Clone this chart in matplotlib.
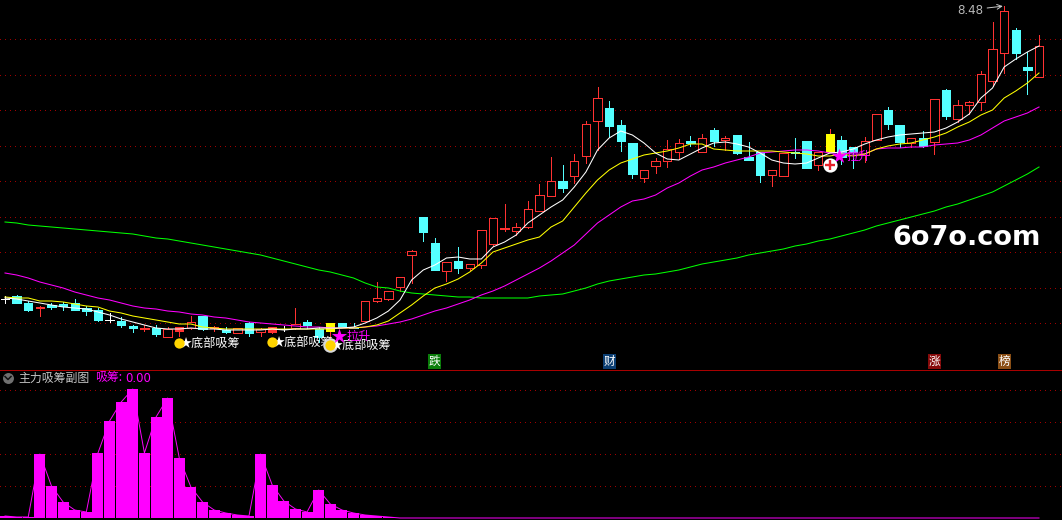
import matplotlib
matplotlib.use('Agg')
import matplotlib.pyplot as plt
import numpy as np

plt.rcParams['font.family'] = ['Noto Sans CJK SC', 'DejaVu Sans']

# K线数据
opens = [5.55,5.58,5.51,5.46,5.49,5.50,5.51,5.46,5.44,5.34,5.33,5.28,5.25,5.26,5.17,5.23,5.26,5.38,5.26,5.24,
         5.21,5.31,5.22,5.22,5.25,5.26,5.32,5.25,5.23,5.31,5.27,5.33,5.53,5.55,5.67,5.99,6.37,6.11,5.83,5.93,
         5.86,5.89,6.10,6.25,6.23,6.27,6.43,6.58,6.73,6.78,6.98,7.33,7.46,7.29,7.11,6.76,6.88,6.93,7.02,7.13,
         7.02,7.24,7.14,7.19,6.97,7.02,6.79,6.78,7.02,7.13,6.89,7.02,7.14,7.07,6.99,7.14,7.44,7.29,7.11,7.16,
         7.12,7.64,7.35,7.49,7.52,7.73,8.01,8.24,7.87,7.77]
closes = [5.55,5.51,5.44,5.47,5.47,5.48,5.44,5.43,5.34,5.34,5.29,5.26,5.26,5.20,5.25,5.27,5.32,5.25,5.27,5.22,
          5.26,5.21,5.25,5.27,5.25,5.30,5.29,5.17,5.31,5.27,5.26,5.53,5.56,5.63,5.77,6.03,6.22,5.84,5.92,5.86,
          5.90,6.24,6.36,6.26,6.27,6.45,6.59,6.73,6.66,6.93,7.30,7.56,7.28,7.13,6.80,6.84,6.93,7.05,7.11,7.11,
          7.16,7.13,7.16,7.01,6.94,6.79,6.84,7.01,7.01,6.86,7.02,7.20,6.97,7.02,7.13,7.40,7.30,7.12,7.16,7.08,
          7.55,7.38,7.49,7.52,7.80,8.05,8.43,8.01,7.84,8.08]
highs = [5.58,5.59,5.53,5.48,5.51,5.52,5.55,5.48,5.46,5.41,5.37,5.29,5.29,5.29,5.27,5.27,5.38,5.38,5.28,5.27,
         5.26,5.32,5.26,5.27,5.28,5.46,5.34,5.27,5.31,5.31,5.31,5.53,5.72,5.63,5.77,6.04,6.37,6.16,5.92,6.07,
         5.90,6.24,6.36,6.50,6.31,6.53,6.70,6.97,6.89,7.00,7.33,7.67,7.53,7.34,7.11,6.84,6.96,7.14,7.15,7.18,
         7.20,7.26,7.18,7.19,7.12,7.02,6.84,7.01,7.16,7.13,7.02,7.25,7.18,7.07,7.17,7.40,7.47,7.29,7.16,7.23,
         7.55,7.65,7.54,7.53,7.83,8.32,8.48,8.26,8.02,8.19]
lows = [5.51,5.51,5.43,5.38,5.45,5.44,5.44,5.39,5.33,5.32,5.27,5.22,5.23,5.18,5.17,5.18,5.25,5.24,5.23,5.21,
        5.21,5.18,5.18,5.21,5.23,5.25,5.26,5.12,5.16,5.27,5.26,5.33,5.52,5.54,5.63,5.71,6.13,5.84,5.73,5.81,
        5.84,5.86,6.08,6.23,6.19,6.26,6.43,6.58,6.62,6.71,6.91,7.04,7.17,7.03,6.76,6.72,6.81,6.87,6.95,7.08,
        7.02,7.08,7.04,7.00,6.94,6.72,6.68,6.78,6.96,6.86,6.84,7.02,6.90,6.86,6.92,7.14,7.25,7.07,7.07,7.07,
        7.00,7.35,7.32,7.40,7.44,7.68,7.81,7.95,7.60,7.77]

# 均线
ma5 = [5.56,5.55,5.53,5.51,5.49,5.47,5.46,5.45,5.42,5.39,5.35,5.32,5.29,5.26,5.25,5.25,5.26,5.25,5.25,5.24,
       5.24,5.24,5.24,5.25,5.24,5.25,5.25,5.26,5.26,5.26,5.27,5.31,5.36,5.43,5.54,5.74,5.84,5.89,5.96,5.97,
       5.95,5.95,6.07,6.12,6.19,6.31,6.39,6.47,6.54,6.67,6.82,7.04,7.16,7.23,7.19,7.11,7.01,6.95,6.94,7.00,
       7.06,7.11,7.12,7.10,7.07,7.01,6.94,6.91,6.90,6.91,6.96,7.01,7.02,7.05,7.10,7.14,7.17,7.19,7.20,7.21,
       7.22,7.26,7.32,7.40,7.56,7.66,7.87,7.95,8.02,8.08]
ma10 = [5.57,5.56,5.56,5.53,5.53,5.52,5.50,5.48,5.47,5.43,5.41,5.38,5.36,5.34,5.32,5.30,5.30,5.27,5.26,5.25,
        5.25,5.25,5.25,5.25,5.25,5.25,5.25,5.25,5.25,5.26,5.26,5.27,5.29,5.33,5.41,5.49,5.58,5.66,5.70,5.75,
        5.82,5.91,6.02,6.06,6.10,6.14,6.17,6.27,6.33,6.47,6.61,6.74,6.84,6.91,6.95,6.99,7.01,7.03,7.06,7.10,
        7.10,7.05,7.04,7.03,7.03,7.03,7.03,7.02,7.01,7.00,6.98,6.98,7.00,6.98,7.00,7.05,7.08,7.10,7.11,7.14,
        7.17,7.21,7.27,7.32,7.39,7.44,7.56,7.63,7.71,7.81]
ma30 = [5.81,5.79,5.76,5.72,5.69,5.66,5.62,5.59,5.56,5.54,5.51,5.48,5.46,5.45,5.43,5.42,5.40,5.39,5.37,5.36,
        5.34,5.32,5.31,5.30,5.29,5.28,5.27,5.27,5.26,5.26,5.26,5.27,5.28,5.30,5.32,5.35,5.39,5.43,5.46,5.50,
        5.54,5.59,5.63,5.68,5.74,5.80,5.86,5.93,6.01,6.09,6.20,6.31,6.39,6.47,6.53,6.55,6.59,6.66,6.71,6.78,
        6.84,6.87,6.91,6.94,6.97,7.01,7.02,7.03,7.04,7.04,7.03,7.01,7.01,7.00,7.00,7.05,7.06,7.06,7.07,7.07,
        7.09,7.10,7.11,7.14,7.19,7.26,7.33,7.37,7.41,7.47]
ma60 = [6.32,6.31,6.29,6.28,6.27,6.26,6.25,6.24,6.23,6.22,6.21,6.20,6.18,6.16,6.15,6.13,6.11,6.09,6.07,6.05,
        6.03,6.01,5.99,5.96,5.93,5.90,5.87,5.84,5.82,5.79,5.76,5.71,5.67,5.66,5.63,5.61,5.60,5.59,5.58,5.57,
        5.57,5.56,5.56,5.56,5.56,5.56,5.58,5.59,5.60,5.63,5.66,5.70,5.73,5.75,5.77,5.79,5.80,5.82,5.84,5.87,
        5.90,5.92,5.94,5.96,5.99,6.01,6.03,6.05,6.08,6.10,6.13,6.15,6.18,6.21,6.24,6.28,6.31,6.34,6.37,6.40,
        6.43,6.47,6.50,6.54,6.58,6.62,6.68,6.74,6.80,6.87]

# 副图 吸筹
xichou = [2,1,1,64,32,16,8,6,65,97,116,129,65,101,120,60,31,16,8,5,3,2,64,33,17,9,6,28,14,8,5,3,2,1] + [0]*56

# 特殊K线和标记
filled_red = [15, 23]
yellow_bars = [28, 71]
bottom_signals = [(15, 5.11), (23, 5.12), (28, 5.09)]
lift_signals = [(29, 5.17), (72, 6.97)]
news_marks = [(37, '跌', '#0a7d0a'), (52, '财', '#0c3f73'), (80, '涨', '#860a0a'), (86, '榜', '#8a4f16')]
grid_prices = [8.15, 7.79, 7.44, 7.08, 6.73, 6.37, 6.02, 5.66, 5.31]
sub_grid = [128, 96, 64, 32]

RED = '#ff3232'
CYAN = '#54ffff'
MAGENTA = '#ff00ff'
GRID = '#a00000'
DOTS = (0, (1, 5))

W, H = 1062, 520
fig = plt.figure(figsize=(W/100, H/100), dpi=100, facecolor='black')
ax = fig.add_axes([0, 1-369/H, 1, 369/H], facecolor='black')
sub = fig.add_axes([0, 0, 1, 151/H], facecolor='black')

x = np.arange(len(opens))
# 像素宽度换算成K线序号
xlim = (-5/11.618, (W-5)/11.618)

for p in grid_prices:
    ax.axhline(p, color=GRID, lw=0.72, ls=DOTS, zorder=1, antialiased=False)

# 画K线
for i in x:
    o, c, h, l = opens[i], closes[i], highs[i], lows[i]
    if i in yellow_bars:
        wick, face, edge = RED, '#ffff00', '#ffff00'
    elif c == o:
        wick, face, edge = 'white', 'white', 'white'
    elif c > o:
        wick, edge = RED, RED
        face = RED if i in filled_red else 'black'
    else:
        wick, face, edge = CYAN, CYAN, CYAN
    ax.vlines(i, l, h, color=wick, lw=0.72, zorder=2, antialiased=False)
    if c == o:
        ax.hlines(c, i-0.38, i+0.38, color=wick, lw=0.72, zorder=3, antialiased=False)
    else:
        ax.bar(i, abs(c-o), bottom=min(o, c), width=0.72, facecolor=face, edgecolor=edge,
               lw=0.72, zorder=3, antialiased=False)

ax.plot(x, ma60, color='#00ff00', lw=0.75, zorder=4)
ax.plot(x, ma30, color=MAGENTA, lw=0.75, zorder=5)
ax.plot(x, ma10, color='#ffff00', lw=0.75, zorder=6)
ax.plot(x, ma5, color='white', lw=0.75, zorder=7)

# 底部吸筹
for i, p in bottom_signals:
    if i == 28:
        ax.scatter(i, p, s=110, color='#d8d8d8', lw=0, zorder=8)
    ax.scatter(i, p, s=55, color='#ffd400', lw=0, zorder=9)
    ax.text(i+0.05, p, '★底部吸筹', color='white', fontsize=8.7, va='center', ha='left', zorder=8)

# 拉升
for i, p in lift_signals:
    ax.scatter(i-0.25, p+0.01, marker='*', s=130, color=MAGENTA, lw=0, zorder=9)
    ax.text(i+0.4, p+0.01, '拉升', color=MAGENTA, fontsize=8.7, va='center', ha='left', zorder=9)

# 十字圆圈
ax.scatter(71, 6.89, s=105, color='white', lw=0, zorder=10)
ax.scatter(71, 6.89, s=48, marker='+', color='#e8202a', lw=1.7, zorder=11)

# 最高价
ax.annotate('8.48', xy=(86, 8.48), xytext=(957, H-10), textcoords='figure pixels', color='#b8b8b8', fontsize=8.6,
            va='center', ha='left', family='DejaVu Sans',
            arrowprops=dict(arrowstyle='->', color='#c8c8c8', lw=0.7, shrinkA=1, shrinkB=1))

for i, s, col in news_marks:
    ax.text(i, 4.925, s, color='white', fontsize=8.4, ha='center', va='center', zorder=10,
            bbox=dict(boxstyle='square,pad=0.06', fc=col, ec='none'))

ax.set_xlim(*xlim)
ax.set_ylim(8.54-3.69, 8.54)
ax.axis('off')

# 副图
for v in sub_grid:
    sub.axhline(v, color=GRID, lw=0.72, ls=DOTS, zorder=1, antialiased=False)
sub.bar(x, xichou, width=0.95, color=MAGENTA, lw=0, zorder=2, antialiased=False)
sub.plot(x, xichou, color=MAGENTA, lw=0.7, zorder=3)
sub.set_xlim(*xlim)
sub.set_ylim(-2, 149)
sub.axis('off')

# 覆盖层,界面元素用像素坐标
ov = fig.add_axes([0, 0, 1, 1], facecolor='none')
ov.set_xlim(0, W)
ov.set_ylim(H, 0)
ov.axis('off')
ov.plot([0, W], [369.5, 369.5], color='#a80000', lw=0.72, antialiased=False)
ov.scatter(8, 378, s=62, color='#707070', lw=0)
ov.plot([5, 8, 11], [376.5, 379.5, 376.5], color='#111111', lw=1.1)
ov.text(18, 378, '主力吸筹副图', color='#c4c4c4', fontsize=8.6, va='center', ha='left')
ov.text(95, 378, '吸筹:', color=MAGENTA, fontsize=8.6, va='center', ha='left')
ov.text(125, 378, '0.00', color=MAGENTA, fontsize=8.4, va='center', ha='left', family='DejaVu Sans')
ov.text(892, 238, '6o7o.com', color='white', fontsize=19.5, va='center', ha='left',
        family='DejaVu Sans', weight='bold')

fig.savefig('out.png', dpi=100, facecolor='black')
